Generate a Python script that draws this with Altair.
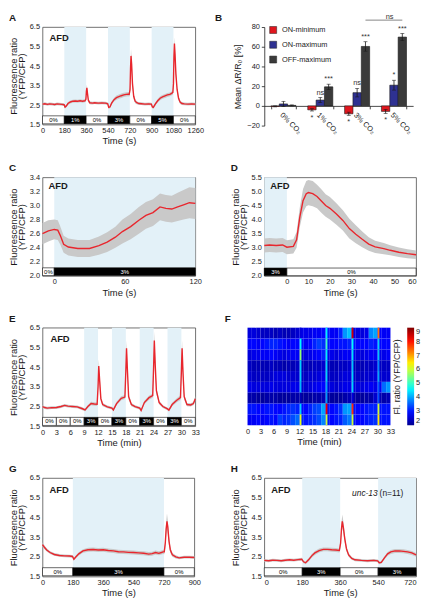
import altair as alt
import pandas as pd

FONT = "Liberation Sans"
RED = "#e8262d"
BAND = "#c9c9c9"
SHADE = "#e3f1f8"
FRAME = "#4d4d4d"
INK = "#1a1a1a"
YTITLE = ["Fluorescence ratio", "(YFP/CFP)"]

# ---------------- Panel A (s) ----------------
A_time = [0, 20, 40, 60, 80, 100, 120, 140, 160, 178,
          186, 196, 210, 230, 250, 270, 290, 310, 330, 350,
          358, 362, 366, 371, 378, 390, 410, 430, 460, 490,
          520, 538, 546, 556, 570, 590, 610, 630, 650, 670,
          690, 705, 715, 722, 726, 730, 735, 742, 752, 764,
          778, 795, 815, 845, 875, 898, 906, 914, 930, 950,
          970, 990, 1010, 1030, 1050, 1065, 1075, 1080, 1084, 1088,
          1093, 1100, 1110, 1122, 1135, 1150, 1170, 1200, 1230, 1260]
A_mean = [2.55, 2.57, 2.54, 2.56, 2.55, 2.53, 2.56, 2.55, 2.54, 2.52,
          2.40, 2.45, 2.58, 2.66, 2.70, 2.71, 2.70, 2.72, 2.70, 2.72,
          2.80, 3.20, 3.38, 3.10, 2.75, 2.62, 2.60, 2.62, 2.60, 2.61,
          2.60, 2.57, 2.38, 2.40, 2.60, 2.78, 2.88, 2.93, 2.98, 3.02,
          3.05, 3.06, 3.05, 3.30, 4.40, 5.02, 4.60, 3.60, 2.95, 2.70,
          2.62, 2.58, 2.57, 2.55, 2.56, 2.55, 2.40, 2.38, 2.55, 2.72,
          2.85, 2.92, 2.97, 3.02, 3.05, 3.10, 3.15, 3.60, 5.00, 5.65,
          5.10, 4.10, 3.30, 2.85, 2.65, 2.58, 2.56, 2.55, 2.56, 2.55]
A_sem = [0.07, 0.07, 0.07, 0.07, 0.07, 0.07, 0.07, 0.07, 0.07, 0.07,
         0.07, 0.07, 0.08, 0.08, 0.08, 0.08, 0.08, 0.08, 0.08, 0.08,
         0.10, 0.15, 0.16, 0.13, 0.10, 0.08, 0.07, 0.07, 0.07, 0.07,
         0.07, 0.07, 0.07, 0.07, 0.08, 0.10, 0.11, 0.11, 0.11, 0.11,
         0.11, 0.11, 0.11, 0.20, 0.30, 0.35, 0.30, 0.25, 0.15, 0.10,
         0.08, 0.07, 0.07, 0.07, 0.07, 0.07, 0.07, 0.07, 0.08, 0.09,
         0.10, 0.10, 0.10, 0.10, 0.10, 0.10, 0.11, 0.20, 0.30, 0.32,
         0.30, 0.25, 0.18, 0.12, 0.09, 0.08, 0.07, 0.07, 0.07, 0.07]
A_strips = [(0, 180, "0%", 0), (180, 360, "1%", 1), (360, 540, "0%", 0), (540, 720, "3%", 1),
            (720, 900, "0%", 0), (900, 1080, "5%", 1), (1080, 1260, "0%", 0)]
A_shade = [(180, 360), (540, 720), (900, 1080)]

# ---------------- Panel B ----------------
B_cats = ["0% CO₂", "1% CO₂", "3% CO₂", "5% CO₂"]
B_series = ["ON-minimum", "ON-maximum", "OFF-maximum"]
B_colors = ["#e0161e", "#2e3192", "#3a3a3a"]
B_on_min = [-0.5, -4.0, -8.0, -5.6]
B_on_min_err = [0.5, 1.2, 1.6, 2.0]
B_on_max = [2.0, 5.9, 13.4, 21.0]
B_on_max_err = [2.6, 2.6, 4.3, 5.0]
B_off_max = [0.5, 19.3, 60.3, 69.8]
B_off_max_err = [0.5, 2.7, 4.8, 3.6]
B_on_min_sig = ["", "*", "*", "*"]
B_on_max_sig = ["", "ns", "ns", "*"]
B_off_max_sig = ["", "***", "***", "***"]

# ---------------- Panel C (s) ----------------
C_time = [-10, -5, 0, 3, 5, 8, 12, 20, 30, 38, 45, 52, 58, 65, 72, 78, 84, 90, 95, 100, 105, 110, 115, 120]
C_mean = [2.60, 2.64, 2.66, 2.65, 2.58, 2.45, 2.41, 2.39, 2.39, 2.43, 2.48, 2.55, 2.63, 2.70, 2.79, 2.86,
          2.90, 2.98, 2.96, 2.95, 2.98, 3.01, 3.04, 3.03]
C_sem = [0.15, 0.15, 0.14, 0.14, 0.13, 0.12, 0.12, 0.12, 0.12, 0.13, 0.14, 0.15, 0.17, 0.18, 0.19, 0.19,
         0.19, 0.19, 0.19, 0.19, 0.20, 0.21, 0.22, 0.22]
C_strips = [(-10, 0, "0%", 0), (0, 120, "3%", 1)]
C_shade = [(0, 120)]

# ---------------- Panel D (s) ----------------
D_time = [-10.5, -8, -5, -2, 0, 3, 4.5, 6, 7.5, 9, 10, 12, 14, 16, 18, 20, 23, 26, 29, 32, 35, 38, 41, 45,
          48, 52, 56, 60]
D_mean = [3.08, 3.10, 3.08, 3.10, 3.02, 3.05, 3.28, 4.09, 4.67, 4.92, 4.96, 4.92, 4.82, 4.66, 4.50, 4.40,
          4.20, 3.97, 3.68, 3.48, 3.30, 3.13, 3.03, 2.97, 2.91, 2.84, 2.79, 2.75]
D_sem = [0.25, 0.25, 0.25, 0.25, 0.25, 0.25, 0.28, 0.35, 0.42, 0.45, 0.45, 0.45, 0.42, 0.42, 0.40, 0.40,
         0.38, 0.36, 0.35, 0.32, 0.28, 0.24, 0.22, 0.20, 0.18, 0.17, 0.16, 0.15]
D_strips = [(-10.5, 0, "3%", 1), (0, 60, "0%", 0)]
D_shade = [(-10.5, 0)]

# ---------------- Panel E (min) ----------------
E_time = [0, 0.5, 1, 1.5, 2, 3, 4, 4.8, 5.5, 6.5, 7.5, 8.5, 9.2, 9.8, 10.5, 11.2, 11.8, 12.0, 12.15, 12.35,
          12.6, 13, 14, 15, 15.3, 16, 17, 17.8, 18.0, 18.15, 18.35, 18.6, 19.2, 20, 21, 21.3, 22, 23, 23.8,
          24.0, 24.15, 24.35, 24.6, 25.2, 26, 27, 27.3, 28, 29, 29.8, 30.0, 30.15, 30.35, 30.6, 31.2, 32,
          32.6, 33]
E_mean = [2.50, 2.45, 2.42, 2.43, 2.44, 2.45, 2.50, 2.56, 2.52, 2.50, 2.48, 2.40, 2.33, 2.50, 2.65, 2.63,
          2.62, 3.50, 4.55, 3.80, 2.90, 2.60, 2.48, 2.42, 2.33, 2.65, 2.92, 2.98, 4.30, 5.45, 4.30, 3.00,
          2.60, 2.50, 2.42, 2.30, 2.70, 2.95, 3.05, 4.50, 5.85, 4.60, 3.30, 2.70, 2.50, 2.38, 2.32, 2.60,
          2.82, 2.95, 4.30, 5.45, 4.20, 3.00, 2.60, 2.58, 2.65, 2.90]
E_sem = [0.07, 0.07, 0.07, 0.07, 0.07, 0.07, 0.07, 0.07, 0.07, 0.07, 0.07, 0.07, 0.07, 0.08, 0.09, 0.09,
         0.09, 0.25, 0.35, 0.30, 0.15, 0.08, 0.07, 0.07, 0.07, 0.09, 0.10, 0.10, 0.30, 0.40, 0.30, 0.15,
         0.08, 0.07, 0.07, 0.07, 0.09, 0.10, 0.11, 0.35, 0.45, 0.35, 0.18, 0.09, 0.07, 0.07, 0.07, 0.09,
         0.10, 0.12, 0.30, 0.40, 0.30, 0.15, 0.08, 0.08, 0.08, 0.12]
E_strips = [(0, 3, "0%", 0), (3, 6, "0%", 0), (6, 9, "0%", 0), (9, 12, "3%", 1), (12, 15, "0%", 0),
            (15, 18, "3%", 1), (18, 21, "0%", 0), (21, 24, "3%", 1), (24, 27, "0%", 0), (27, 30, "3%", 1),
            (30, 33, "0%", 0)]
E_shade = [(9, 12), (15, 18), (21, 24), (27, 30)]

# ---------------- Panel F heat map (min) ----------------
F_rows = [
    [2.6, 2.6, 2.5, 2.4, 2.4, 2.4, 2.3, 2.4, 2.3, 2.3, 2.4, 2.5, 2.7, 2.7, 2.7, 2.8, 2.8, 2.9, 3.0, 2.8, 2.8, 3.1, 3.9, 4.2, 2.7, 2.6, 2.6, 2.7, 3.8, 4.0, 2.9, 2.8, 2.8],
    [2.9, 2.9, 2.8, 2.9, 3.0, 3.1, 3.1, 3.0, 2.9, 2.8, 2.9, 2.9, 3.0, 2.8, 2.9, 3.1, 3.3, 3.2, 3.0, 2.9, 2.9, 3.0, 3.0, 3.1, 3.0, 2.9, 2.9, 2.9, 3.1, 3.0, 2.9, 2.9, 2.9],
    [2.6, 2.7, 2.7, 2.8, 2.8, 2.9, 2.8, 2.7, 2.6, 2.7, 2.8, 2.8, 2.6, 2.6, 2.7, 2.8, 2.9, 3.1, 2.7, 2.7, 2.6, 2.7, 2.8, 2.8, 2.7, 2.6, 2.6, 2.7, 2.8, 2.8, 2.7, 2.7, 2.8],
    [2.4, 2.3, 2.3, 2.3, 2.3, 2.4, 2.3, 2.3, 2.2, 2.3, 2.3, 2.4, 2.3, 2.3, 2.3, 2.4, 2.4, 2.5, 2.3, 2.3, 2.3, 2.4, 2.4, 2.5, 2.3, 2.3, 2.3, 2.4, 2.4, 2.5, 2.4, 2.4, 2.4],
    [2.5, 2.4, 2.4, 2.4, 2.4, 2.5, 2.6, 2.6, 2.6, 2.5, 2.5, 2.5, 2.4, 2.4, 2.5, 2.5, 2.6, 2.7, 2.4, 2.4, 2.4, 2.5, 2.6, 2.6, 2.4, 2.4, 2.4, 2.5, 2.5, 2.6, 2.5, 2.5, 2.5],
    [2.7, 2.6, 2.6, 2.6, 2.6, 2.7, 2.6, 2.6, 2.6, 2.6, 2.7, 2.7, 2.5, 2.5, 2.6, 2.7, 2.8, 2.9, 2.6, 2.6, 2.5, 2.6, 2.7, 2.7, 2.6, 2.6, 2.6, 2.7, 2.8, 2.7, 2.8, 3.6, 3.9],
    [2.2, 2.2, 2.1, 2.1, 2.2, 2.2, 2.2, 2.1, 2.1, 2.1, 2.2, 2.2, 2.1, 2.1, 2.1, 2.2, 2.2, 2.3, 2.1, 2.1, 2.1, 2.1, 2.2, 2.3, 2.2, 2.1, 2.1, 2.2, 2.2, 2.5, 2.3, 2.2, 2.3],
    [3.0, 3.0, 2.9, 2.9, 3.0, 3.0, 2.9, 2.9, 3.0, 3.1, 3.2, 3.1, 2.9, 2.9, 3.1, 3.3, 3.4, 4.0, 3.0, 2.9, 3.0, 3.2, 3.9, 4.0, 3.0, 2.9, 2.9, 3.0, 3.1, 3.1, 3.0, 3.0, 3.0],
    [2.8, 2.8, 2.9, 2.8, 2.9, 3.0, 2.9, 3.3, 3.1, 3.2, 3.4, 3.6, 3.1, 3.0, 3.1, 3.2, 3.4, 3.8, 3.0, 2.9, 3.0, 3.1, 3.5, 3.7, 3.0, 2.9, 2.9, 3.0, 3.1, 3.2, 3.0, 3.0, 3.0],
]
F_peak_times = [12, 18, 24, 30]
F_peaks = [
    [2.6, 4.5, 8.5, 7.3],
    [4.6, 5.0, 4.6, 4.3],
    [5.6, 4.5, 4.4, 4.2],
    [4.3, 4.3, 4.2, 3.8],
    [4.3, 4.3, 4.3, 4.0],
    [4.1, 4.0, 4.3, 3.5],
    [2.3, 3.9, 2.6, 3.4],
    [4.3, 8.3, 7.8, 6.0],
    [6.2, 6.0, 6.0, 6.5],
]
JET_DOMAIN = [2, 2.875, 3.75, 4.625, 5.5, 6.375, 7.25, 8.125, 9]
JET_RANGE = ["#00008f", "#0000ff", "#0080ff", "#00ffff", "#80ff80", "#ffff00", "#ff8000", "#ff0000", "#800000"]

# ---------------- Panel G (s) ----------------
G_time = [0, 10, 25, 45, 70, 100, 130, 160, 178, 186, 196, 215, 240, 270, 300, 330, 360, 390, 420, 450, 480,
          510, 540, 570, 600, 630, 650, 670, 690, 705, 715, 722, 728, 733, 738, 743, 750, 758, 770, 790, 810,
          840, 870, 900]
G_mean = [3.12, 3.00, 2.85, 2.72, 2.62, 2.57, 2.55, 2.54, 2.52, 2.38, 2.48, 2.65, 2.80, 2.86, 2.87, 2.85,
          2.86, 2.82, 2.80, 2.76, 2.75, 2.73, 2.72, 2.70, 2.68, 2.64, 2.66, 2.72, 2.68, 2.72, 2.75, 2.75,
          3.20, 3.90, 4.30, 4.00, 3.30, 2.85, 2.60, 2.50, 2.45, 2.48, 2.48, 2.47]
G_sem = [0.12, 0.10, 0.08, 0.07, 0.07, 0.07, 0.07, 0.07, 0.07, 0.07, 0.07, 0.08, 0.09, 0.10, 0.10, 0.10,
         0.10, 0.10, 0.10, 0.10, 0.10, 0.10, 0.10, 0.10, 0.10, 0.10, 0.10, 0.10, 0.10, 0.10, 0.10, 0.12,
         0.25, 0.35, 0.40, 0.35, 0.25, 0.15, 0.10, 0.08, 0.07, 0.07, 0.07, 0.07]
G_strips = [(0, 180, "0%", 0), (180, 720, "3%", 1), (720, 900, "0%", 0)]
G_shade = [(180, 720)]

# ---------------- Panel H (s) ----------------
H_time = [0, 20, 40, 60, 80, 100, 120, 140, 160, 178, 186, 196, 210, 225, 240, 260, 280, 300, 320, 340,
          356, 362, 366, 370, 375, 382, 390, 400, 415, 430, 460, 490, 520, 538, 545, 555, 570, 585, 600,
          620, 640, 660, 680, 700, 720]
H_mean = [2.32, 2.30, 2.33, 2.32, 2.30, 2.33, 2.35, 2.33, 2.36, 2.38, 2.25, 2.20, 2.35, 2.55, 2.70, 2.82,
          2.88, 2.88, 2.86, 2.85, 2.82, 3.20, 3.90, 4.30, 4.00, 3.40, 2.90, 2.60, 2.42, 2.35, 2.32, 2.30,
          2.32, 2.30, 2.20, 2.22, 2.45, 2.65, 2.75, 2.80, 2.80, 2.78, 2.75, 2.70, 2.60]
H_sem = [0.07, 0.07, 0.07, 0.07, 0.07, 0.07, 0.07, 0.07, 0.07, 0.07, 0.07, 0.07, 0.08, 0.09, 0.10, 0.10,
         0.10, 0.10, 0.10, 0.10, 0.10, 0.20, 0.30, 0.35, 0.30, 0.20, 0.12, 0.09, 0.07, 0.07, 0.07, 0.07,
         0.07, 0.07, 0.07, 0.07, 0.08, 0.09, 0.10, 0.10, 0.10, 0.10, 0.10, 0.10, 0.10]
H_strips = [(0, 180, "0%", 0), (180, 360, "3%", 1), (360, 540, "0%", 0), (540, 720, "3%", 1)]
H_shade = [(180, 360), (540, 720)]

LETTER_X = -34
LETTER_Y = -14


def label_layer(text, x, y, size=10, weight="bold", align="left", baseline="top", style="normal"):
    return alt.Chart(pd.DataFrame({"label": [text]})).mark_text(
        fontSize=size, fontWeight=weight, align=align, baseline=baseline, color=INK, fontStyle=style
    ).encode(x=alt.value(x), y=alt.value(y), text="label:N")


def trace_panel(time, mean, sem, xdom, ydom, xticks, yticks, yfmt, xtitle, strips, shades,
                slo, shi, w, h, letter, afd, extra=(), flush=False):
    df = pd.DataFrame({"t": time, "m": mean, "s": sem})
    df["lo"] = df.m - df.s
    df["hi"] = df.m + df.s
    xs = alt.Scale(domain=xdom, nice=False, zero=False)
    ys = alt.Scale(domain=ydom, nice=False, zero=False)
    xax = alt.Axis(values=xticks, format="d", ticks=False, domain=False, grid=False, labelFontSize=7.5,
                   labelPadding=2, titleFontSize=9.5, titlePadding=2, labelFlush=flush,
                   labelOverlap=False, titleFontWeight="normal")
    yax = alt.Axis(values=yticks, format=yfmt, ticks=False, domain=False, grid=False,
                   labelFontSize=7.5, labelPadding=3, titleFontSize=9.5, titlePadding=3,
                   titleLineHeight=8, labelFlush=False, labelOverlap=False,
                   titleFontWeight="normal")

    def X(f):
        return alt.X(f, type="quantitative", scale=xs, axis=xax, title=xtitle)

    def Y(f):
        return alt.Y(f, type="quantitative", scale=ys, axis=yax, title=YTITLE)

    sh = pd.DataFrame([{"x0": a, "x1": b, "y0": shi, "y1": ydom[1]} for a, b in shades])
    st = pd.DataFrame([{"x0": a, "x1": b, "label": l, "black": bool(k), "y0": slo, "y1": shi,
                        "xm": (a + b) / 2, "ym": (slo + shi) / 2} for a, b, l, k in strips])
    shade = alt.Chart(sh).mark_rect(color=SHADE).encode(x=X("x0"), x2="x1", y=Y("y0"), y2="y1")
    band = alt.Chart(df).mark_area(color=BAND).encode(x=X("t"), y=Y("lo"), y2="hi")
    line = alt.Chart(df).mark_line(color=RED, strokeWidth=1.4).encode(x=X("t"), y=Y("m"))
    boxes = alt.Chart(st).mark_rect(stroke="black", strokeWidth=0.6).encode(
        x=X("x0"), x2="x1", y=Y("y0"), y2="y1",
        fill=alt.condition("datum.black", alt.value("black"), alt.value("white")))
    texts = alt.Chart(st).mark_text(fontSize=6, baseline="middle").encode(
        x=X("xm"), y=Y("ym"), text="label:N",
        color=alt.condition("datum.black", alt.value("white"), alt.value("black")))
    layers = [shade, band, line, boxes, texts,
              label_layer("AFD", afd[0], afd[1], size=9.5, baseline="middle"),
              label_layer(letter, LETTER_X, LETTER_Y)] + list(extra)
    return alt.layer(*layers).properties(width=w, height=h)


# ---------------- build panels ----------------
tA = trace_panel(A_time, A_mean, A_sem, [0, 1260], [1.5, 6.5], [0, 180, 360, 540, 720, 900, 1080, 1260],
                 [1.5, 2.5, 3.5, 4.5, 5.5, 6.5], ".1f", "Time (s)", A_strips, A_shade, 1.54, 1.95,
                 155, 99, "A", (7, 11))

tC = trace_panel(C_time, C_mean, C_sem, [-10, 120], [2.0, 3.4], [0, 60, 120],
                 [2.0, 2.2, 2.4, 2.6, 2.8, 3.0, 3.2, 3.4], ".1f", "Time (s)", C_strips, C_shade, 2.005, 2.115,
                 155, 100, "C", (6, 9))

tD = trace_panel(D_time, D_mean, D_sem, [-10.5, 60], [2.0, 5.5], [0, 10, 20, 30, 40, 50, 60],
                 [2.0, 2.5, 3.0, 3.5, 4.0, 4.5, 5.0, 5.5], ".1f", "Time (s)", D_strips, D_shade, 2.01, 2.28,
                 154, 100, "D", (6, 9), flush=True)

tE = trace_panel(E_time, E_mean, E_sem, [0, 33], [1.5, 6.5], list(range(0, 34, 3)),
                 [1.5, 2.5, 3.5, 4.5, 5.5, 6.5], ".1f", "Time (min)", E_strips, E_shade, 1.54, 1.95,
                 155, 100, "E", (8, 12))

tG = trace_panel(G_time, G_mean, G_sem, [0, 900], [1.5, 6.5], [0, 180, 360, 540, 720, 900],
                 [1.5, 2.5, 3.5, 4.5, 5.5, 6.5], ".1f", "Time (s)", G_strips, G_shade, 1.54, 1.95,
                 154, 100, "G", (7, 12))

tH = trace_panel(H_time, H_mean, H_sem, [0, 720], [1.5, 6.5], [0, 180, 360, 540, 720],
                 [1.5, 2.5, 3.5, 4.5, 5.5, 6.5], ".1f", "Time (s)", H_strips, H_shade, 1.54, 1.95,
                 154, 100, "H", (7, 12), flush=True,
                 extra=[label_layer("unc-13", 115, 15, size=8.5, weight="normal", align="right",
                                    baseline="middle", style="italic"),
                        label_layer("(n=11)", 117, 15, size=8.5, weight="normal", align="left",
                                    baseline="middle")])

# ---- B ----
rows = []
for name, vals, errs, sigs in [("ON-minimum", B_on_min, B_on_min_err, B_on_min_sig),
                               ("ON-maximum", B_on_max, B_on_max_err, B_on_max_sig),
                               ("OFF-maximum", B_off_max, B_off_max_err, B_off_max_sig)]:
    for c, v, e, s in zip(B_cats, vals, errs, sigs):
        rows.append({"cat": c, "series": name, "val": v, "lo": v - e, "hi": v + e, "sig": s})
bdf = pd.DataFrame(rows)

xaxB = alt.Axis(orient="bottom", offset=-20, labelAngle=45, labelAlign="left", labelBaseline="top",
                labelFontSize=7.5, labelPadding=2, tickBand="extent", ticks=True, tickSize=3,
                tickColor=INK, domainColor=INK, domainWidth=0.8, tickWidth=0.8, grid=False,
                labelOverlap=False)
yaxB = alt.Axis(values=[-20, 0, 20, 40, 60, 80], tickSize=3, tickColor=INK, domainColor=INK,
                domainWidth=0.8, tickWidth=0.8, grid=False, labelFontSize=7.5, labelPadding=2,
                titleFontSize=9, titlePadding=4, titleFontWeight="normal")
xB = alt.X("cat:N", sort=B_cats, scale=alt.Scale(domain=B_cats, paddingInner=0.32, paddingOuter=0.18),
           axis=xaxB, title=None)
xoB = alt.XOffset("series:N", sort=B_series,
                  scale=alt.Scale(domain=B_series, paddingInner=0, paddingOuter=0))


def yB(f):
    return alt.Y(f, type="quantitative", scale=alt.Scale(domain=[-20, 80], nice=False),
                 axis=yaxB, title="Mean ΔR/R₀ [%]")


bars = alt.Chart(bdf).mark_bar(stroke=INK, strokeWidth=0.6).encode(
    x=xB, xOffset=xoB, y=yB("val"),
    color=alt.Color("series:N", sort=B_series, scale=alt.Scale(domain=B_series, range=B_colors),
                    legend=alt.Legend(orient="none", legendX=5, legendY=-1, title=None,
                                      symbolType="square", symbolSize=50, labelFontSize=7.5,
                                      symbolStrokeColor=INK, symbolStrokeWidth=0.5, rowPadding=5,
                                      labelOffset=5, symbolOpacity=1)))
errs = alt.Chart(bdf).mark_rule(color=INK, strokeWidth=0.8).encode(x=xB, xOffset=xoB, y=yB("lo"), y2="hi")
cap_lo = alt.Chart(bdf).mark_tick(color=INK, thickness=0.8, size=4).encode(x=xB, xOffset=xoB, y=yB("lo"))
cap_hi = alt.Chart(bdf).mark_tick(color=INK, thickness=0.8, size=4).encode(x=xB, xOffset=xoB, y=yB("hi"))
sig_pos = alt.Chart(bdf[(bdf.val >= 0) & (bdf.sig != "")]).mark_text(
    fontSize=7.5, baseline="bottom", dy=-1, color="#333").encode(x=xB, xOffset=xoB, y=yB("hi"), text="sig:N")
sig_neg = alt.Chart(bdf[(bdf.val < 0) & (bdf.sig != "")]).mark_text(
    fontSize=7.5, baseline="top", dy=3, color="#333").encode(x=xB, xOffset=xoB, y=yB("lo"), text="sig:N")
bracket_df = pd.DataFrame({"cat": ["3% CO₂", "5% CO₂"], "series": ["OFF-maximum", "OFF-maximum"],
                           "y": [87, 87]})
bracket = alt.Chart(bracket_df).mark_line(color="#666", strokeWidth=0.8).encode(
    x=xB, xOffset=xoB, y=yB("y"))
ns_df = pd.DataFrame({"cat": ["5% CO₂"], "series": ["ON-minimum"], "y": [90.3], "label": ["ns"]})
ns_txt = alt.Chart(ns_df).mark_text(fontSize=7.5, baseline="middle", color="#333", dx=4).encode(
    x=xB, xOffset=xoB, y=yB("y"), text="label:N")
tB = alt.layer(bars, errs, cap_lo, cap_hi, sig_pos, sig_neg, bracket, ns_txt,
               label_layer("B", -50, LETTER_Y)).properties(
    width=151, height=100, view=alt.ViewBackground(stroke="transparent"))

# ---- F ----
fbase = []
for r, vals in enumerate(F_rows):
    for i, v in enumerate(vals):
        fbase.append({"row": r, "t0": i, "t1": i + 1, "v": v})
fpeak = []
for r, vals in enumerate(F_peaks):
    for tp, v in zip(F_peak_times, vals):
        fpeak.append({"row": r, "t0": tp + 0.05, "t1": tp + 0.45, "v": v})

xF = alt.X("t0:Q", scale=alt.Scale(domain=[0, 33], range=[-17, 128], nice=False, zero=False),
           axis=alt.Axis(values=list(range(0, 34, 3)), ticks=False, domain=False, grid=False,
                         labelFontSize=7.5, labelPadding=2, titleFontSize=9.5, titlePadding=2,
                         labelFlush=False, labelOverlap=False, titleFontWeight="normal"),
           title="Time (min)")
yF = alt.Y("row:O", axis=None, scale=alt.Scale(paddingInner=0, paddingOuter=0))
cF = alt.Color("v:Q", scale=alt.Scale(domain=JET_DOMAIN, range=JET_RANGE, interpolate="rgb"),
               legend=alt.Legend(orient="none", legendX=131, legendY=0, title="Fl. ratio (YFP/CFP)",
                                 titleOrient="left", titleFontSize=9,
                                 titleFontWeight="normal", gradientLength=99, gradientThickness=7,
                                 values=[2, 3, 4, 5, 6, 7, 8, 9], labelFontSize=7.5,
                                 direction="vertical", titlePadding=4))
heat_base = alt.Chart(pd.DataFrame(fbase)).mark_rect().encode(x=xF, x2="t1", y=yF, color=cF)
heat_peak = alt.Chart(pd.DataFrame(fpeak)).mark_rect().encode(x=xF, x2="t1", y=yF, color=cF)
tF = alt.layer(heat_base, heat_peak, label_layer("F", -40, LETTER_Y)).properties(
    width=152, height=99, view=alt.ViewBackground(stroke="transparent"))

chart = alt.concat(tA, tB, tC, tD, tE, tF, tG, tH, columns=2,
                   spacing=alt.RowColnumber(row=52.5, column=70),
                   bounds="flush").resolve_scale(color="independent").properties(
    padding=0, background="white"
).configure(font=FONT).configure_view(stroke=FRAME, strokeWidth=0.8).configure_axis(
    labelColor=INK, titleColor=INK).configure_legend(labelColor=INK, titleColor=INK)

chart.save("out.html", embed_options={"renderer": "svg", "actions": False})
